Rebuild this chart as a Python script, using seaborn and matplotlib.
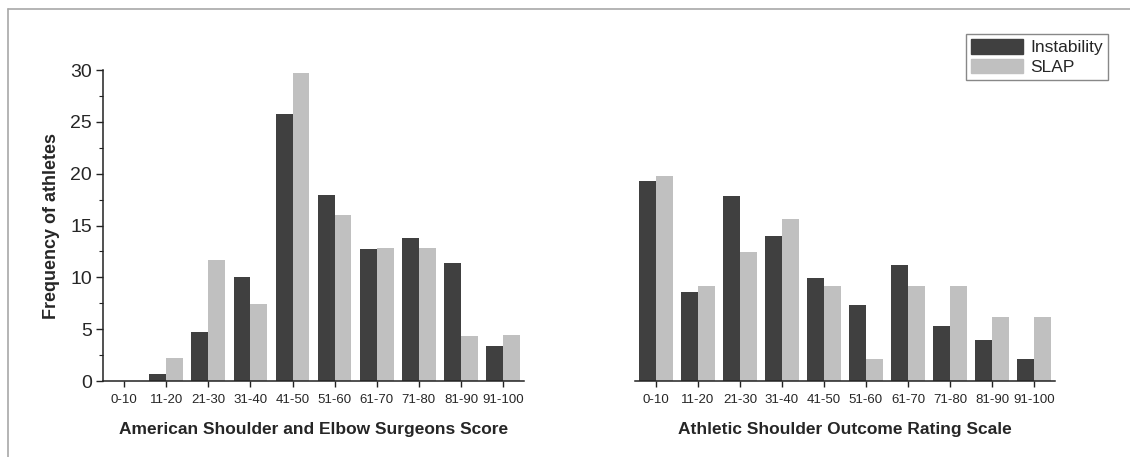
import matplotlib
matplotlib.use("Agg")
import matplotlib.pyplot as plt
from matplotlib.lines import Line2D
from matplotlib.ticker import MultipleLocator
import seaborn as sns
import pandas as pd

# Score ranges shared by both panels
score_bins = ["0-10", "11-20", "21-30", "31-40", "41-50",
              "51-60", "61-70", "71-80", "81-90", "91-100"]
groups = ["Instability", "SLAP"]

# American Shoulder and Elbow Surgeons score distribution
ases_instability = [0.0, 0.7, 4.7, 10.0, 25.8, 17.9, 12.7, 13.8, 11.4, 3.4]
ases_slap = [0.0, 2.2, 11.7, 7.4, 29.7, 16.0, 12.8, 12.8, 4.3, 4.4]

# Athletic Shoulder Outcome Rating Scale distribution
asors_instability = [19.3, 8.6, 17.8, 14.0, 9.9, 7.3, 11.2, 5.3, 4.0, 2.1]
asors_slap = [19.8, 9.2, 12.4, 15.6, 9.2, 2.1, 9.2, 9.2, 6.2, 6.2]

x_titles = ["American Shoulder and Elbow Surgeons Score",
            "Athletic Shoulder Outcome Rating Scale"]
y_title = "Frequency of athletes"


def long_table(instab, slap):
    rows = []
    for grp, vals in zip(groups, [instab, slap]):
        for b, v in zip(score_bins, vals):
            rows.append({"bin": b, "group": grp, "freq": v})
    return pd.DataFrame(rows)


sns.set_theme(style="ticks")
plt.rcParams["font.family"] = ["Liberation Sans", "DejaVu Sans"]

palette = {"Instability": "#404040", "SLAP": "#c0c0c0"}

fig = plt.figure(figsize=(11.3, 4.57), dpi=100)
ax1 = fig.add_axes([0.0912, 0.1663, 0.3726, 0.6805])
ax2 = fig.add_axes([0.5619, 0.1663, 0.3717, 0.6805])

for ax, (ins, sl), title in zip(
        [ax1, ax2],
        [(ases_instability, ases_slap), (asors_instability, asors_slap)],
        x_titles):
    df = long_table(ins, sl)
    sns.barplot(data=df, x="bin", y="freq", hue="group", order=score_bins,
                hue_order=groups, palette=palette, width=0.8, saturation=1,
                linewidth=0, ax=ax)
    ax.set_xlim(-0.5, 9.5)
    ax.set_ylim(0, 30)
    ax.set_xlabel(title, fontsize=12.5, fontweight="bold", labelpad=12)
    ax.tick_params(axis="x", labelsize=9.5, length=4, width=1,
                   color="#222222", pad=5)
    for side in ["top", "right"]:
        ax.spines[side].set_visible(False)
    ax.spines["bottom"].set_color("#222222")
    ax.spines["bottom"].set_linewidth(1.1)

# Left panel keeps its frequency axis
ax1.set_ylabel(y_title, fontsize=13, fontweight="bold", labelpad=7)
ax1.yaxis.set_major_locator(MultipleLocator(5))
ax1.yaxis.set_minor_locator(MultipleLocator(2.5))
ax1.tick_params(axis="y", which="major", labelsize=14, length=5, width=1,
                color="#222222", pad=3)
ax1.tick_params(axis="y", which="minor", length=3, width=0.8,
                color="#222222")
ax1.spines["left"].set_color("#222222")
ax1.spines["left"].set_linewidth(1.1)
ax1.get_legend().remove()

# Right panel shares the scale but hides the vertical axis
ax2.spines["left"].set_visible(False)
ax2.set_ylabel("")
ax2.tick_params(axis="y", left=False, labelleft=False)
ax2.get_legend().remove()

handles = [plt.Rectangle((0, 0), 1, 1, color=palette[g]) for g in groups]
fig.legend(handles, groups, loc="upper right",
           bbox_to_anchor=(0.9805, 0.9256), bbox_transform=fig.transFigure,
           fontsize=12.5, frameon=True, fancybox=False, edgecolor="#888888",
           framealpha=1, borderaxespad=0, handlelength=3.0, handleheight=0.9,
           handletextpad=0.4, labelspacing=0.2, borderpad=0.3)

# Thin page border along top and left
fig.add_artist(Line2D([8 / 1130, 1], [1 - 9 / 457, 1 - 9 / 457],
                      transform=fig.transFigure, color="#a8a8a8", lw=1.2))
fig.add_artist(Line2D([8 / 1130, 8 / 1130], [0, 1 - 9 / 457],
                      transform=fig.transFigure, color="#a8a8a8", lw=1.2))

fig.savefig("out.png", dpi=100)
